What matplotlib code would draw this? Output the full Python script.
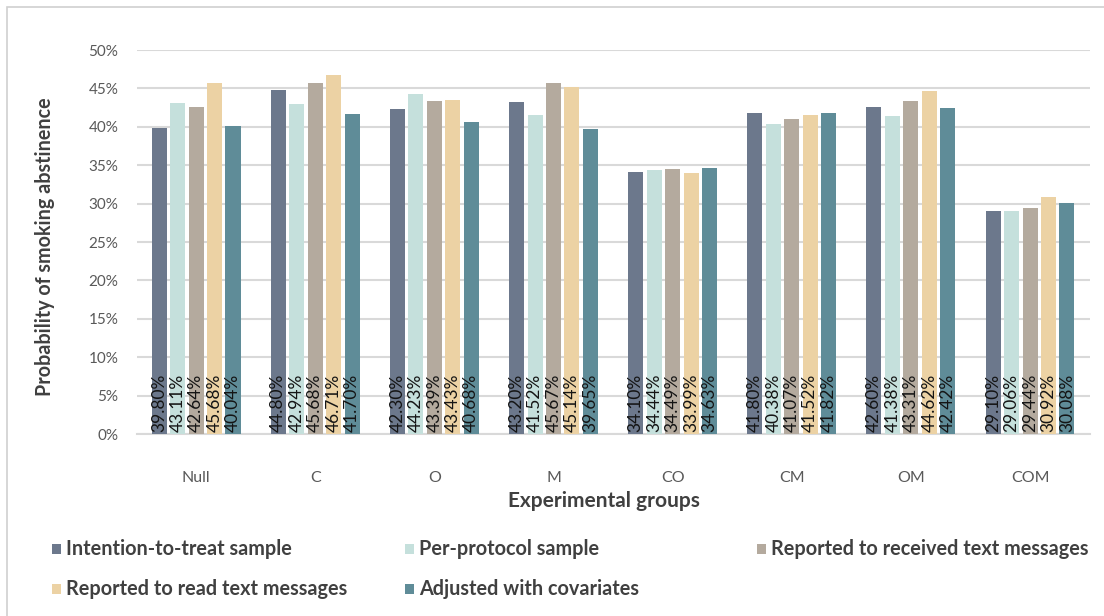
import matplotlib
matplotlib.use("Agg")
import matplotlib.pyplot as plt
from matplotlib.patches import Rectangle
import numpy as np

plt.rcParams['font.family'] = ['Lato', 'DejaVu Sans']

groups = ["Null", "C", "O", "M", "CO", "CM", "OM", "COM"]
series_names = [
    "Intention-to-treat sample",
    "Per-protocol sample",
    "Reported to received text messages",
    "Reported to read text messages",
    "Adjusted with covariates",
]
itt = [39.80, 44.80, 42.30, 43.20, 34.10, 41.80, 42.60, 29.10]
per_protocol = [43.11, 42.94, 44.23, 41.52, 34.44, 40.38, 41.38, 29.06]
received = [42.64, 45.68, 43.39, 45.67, 34.49, 41.07, 43.31, 29.44]
read = [45.68, 46.71, 43.43, 45.14, 33.99, 41.52, 44.62, 30.92]
adjusted = [40.04, 41.70, 40.68, 39.65, 34.63, 41.82, 42.42, 30.08]
yticks = [0, 5, 10, 15, 20, 25, 30, 35, 40, 45, 50]

series = [itt, per_protocol, received, read, adjusted]
colors = ["#6c788c", "#c5e0dc", "#b4aa9e", "#ecd2a4", "#5f8c98"]

W, H = 1104, 616
fig = plt.figure(figsize=(W / 100, H / 100), dpi=100)
fig.patch.set_facecolor("white")

# outer chart frame
fig.add_artist(Rectangle((7 / W, -0.05), 1.2, 1 - 7 / H + 0.05,
                         transform=fig.transFigure, fill=False,
                         edgecolor="#d0d0d0", linewidth=1.2))

ax = fig.add_axes([136.5 / W, 1 - 434 / H, (1089.6 - 136.5) / W, 384 / H])
x = np.arange(len(groups))
pitch = 0.155
width = 0.126
offsets = (np.arange(5) - 2) * pitch

for vals, off, col in zip(series, offsets, colors):
    bars = ax.bar(x + off, vals, width=width, color=col, zorder=3)
    for b, v in zip(bars, vals):
        ax.text(b.get_x() + b.get_width() / 2, 0.25, f"{v:.2f}%",
                rotation=90, ha="center", va="bottom", fontsize=12.5,
                color="#141414", zorder=4)

ax.set_xlim(-0.5, len(groups) - 0.5)
ax.set_ylim(0, 50)
ax.set_yticks(yticks)
ax.set_yticklabels([f"{t}%" for t in yticks])
ax.yaxis.grid(True, color="#d9d9d9", linewidth=1.5, zorder=0)
ax.set_axisbelow(True)
for s in ["top", "right", "left"]:
    ax.spines[s].set_visible(False)
ax.spines["bottom"].set_color("#d9d9d9")
ax.spines["bottom"].set_linewidth(1.5)
ax.tick_params(axis="y", length=0, pad=13, labelsize=11, labelcolor="#595959")
ax.set_xticks(x)
ax.set_xticklabels(groups)
ax.tick_params(axis="x", length=0, pad=27, labelsize=11.5, labelcolor="#595959")

fig.text(45 / W, 1 - 247 / H, "Probability of smoking abstinence", rotation=90,
         ha="center", va="center", fontsize=14.2, fontweight="bold", color="#404040")
fig.text(604 / W, 1 - 501 / H, "Experimental groups", ha="center", va="center",
         fontsize=15, fontweight="bold", color="#404040")

# legend entries laid out in three equal columns
legend_pos = [(52, 549), (405, 549), (757, 549), (52, 589), (405, 589)]
for name, col, (lx, ly) in zip(series_names, colors, legend_pos):
    fig.add_artist(Rectangle((lx / W, 1 - (ly + 5) / H), 9 / W, 10 / H,
                             transform=fig.transFigure, facecolor=col,
                             edgecolor="none"))
    fig.text((lx + 14) / W, 1 - ly / H, name, ha="left", va="center",
             fontsize=14.3, fontweight="bold", color="#404040")

fig.savefig("out.png", dpi=100, facecolor="white")
